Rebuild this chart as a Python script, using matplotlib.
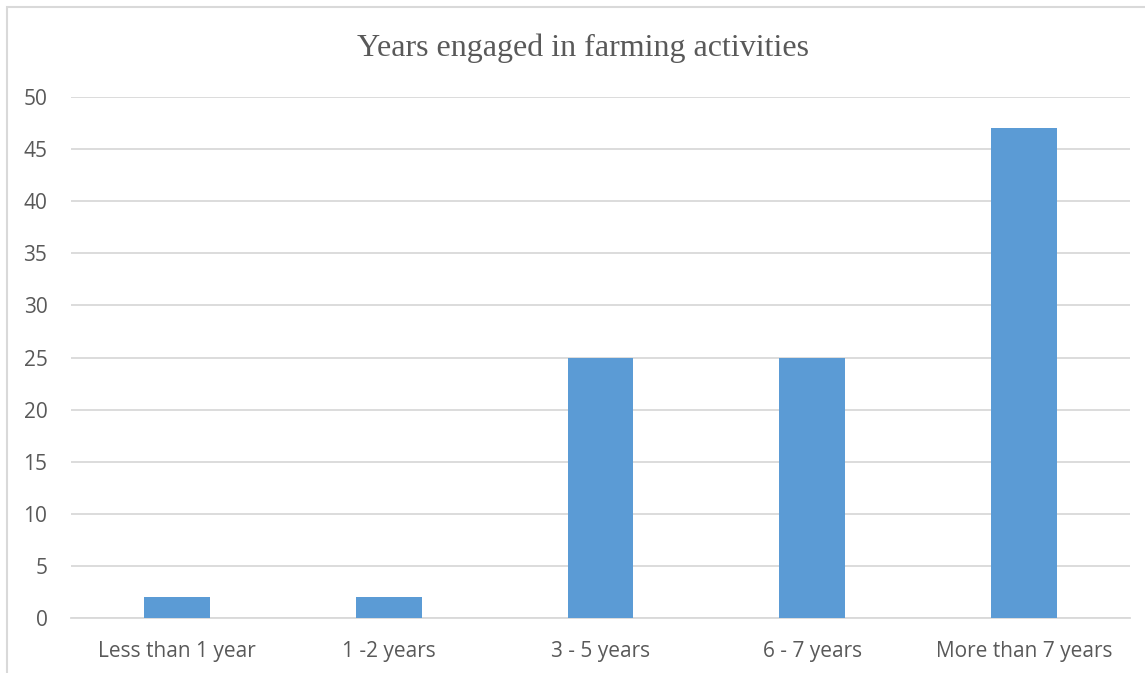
import matplotlib.pyplot as plt
from matplotlib.patches import Rectangle

categories = ["Less than 1 year", "1 -2 years", "3 - 5 years", "6 - 7 years", "More than 7 years"]
values = [2, 2, 25, 25, 47]
yticks = [0, 5, 10, 15, 20, 25, 30, 35, 40, 45, 50]

fig = plt.figure(figsize=(11.45, 6.73), dpi=100)
ax = fig.add_axes([71 / 1145, 55 / 673, 1059 / 1145, 521 / 673])

x = range(len(categories))
ax.bar(x, values, width=0.31, color="#5B9BD5", zorder=3)

ax.set_xlim(-0.5, len(categories) - 0.5)
ax.set_ylim(0, 50)
ax.set_yticks(yticks)
ax.set_xticks(list(x))
ax.set_xticklabels(categories)

for s in ["top", "right", "left"]:
    ax.spines[s].set_visible(False)
ax.spines["bottom"].set_color("#D9D9D9")
ax.spines["bottom"].set_linewidth(1.3)
ax.grid(axis="y", color="#D9D9D9", linewidth=1.3, zorder=0)
ax.tick_params(length=0, labelsize=15, colors="#595959")
ax.tick_params(axis="x", pad=16.5)
ax.tick_params(axis="y", pad=17)
for lab in ax.get_xticklabels() + ax.get_yticklabels():
    lab.set_fontfamily("Open Sans")

fig.text(583 / 1145, 1 - 48 / 673, "Years engaged in farming activities",
         ha="center", va="center", fontsize=23, color="#595959",
         fontfamily="Liberation Serif")

# chart border
fig.patches.append(Rectangle((7 / 1145, -0.1), 1.2, 1 - 7 / 673 + 0.1,
                             transform=fig.transFigure, fill=False,
                             edgecolor="#D9D9D9", linewidth=1.5))

fig.savefig("out.png", dpi=100)
